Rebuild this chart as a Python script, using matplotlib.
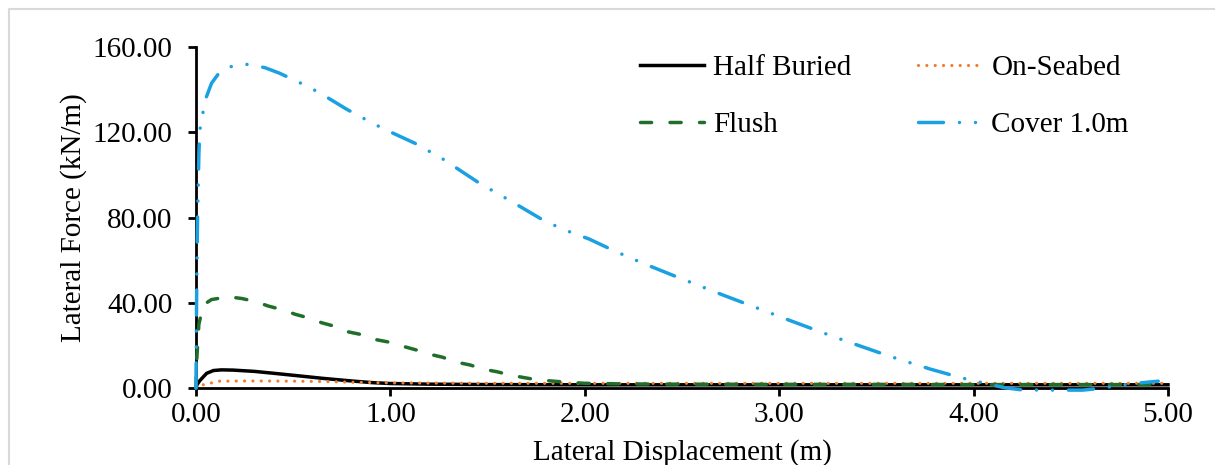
import matplotlib
matplotlib.use("Agg")
import matplotlib.pyplot as plt
from matplotlib.lines import Line2D
from matplotlib.ticker import FormatStrFormatter

# === Dati ===
half_x = [0, 0.005, 0.02, 0.055, 0.09, 0.13, 0.19, 0.3, 0.4, 0.55, 0.655, 0.8, 0.91,
          1.0, 1.2, 1.5, 2.0, 3.0, 4.0, 5.0]
half_y = [0, 1.5, 3.5, 6.9, 8.2, 8.5, 8.4, 7.8, 6.9, 5.5, 4.5, 3.3, 2.5,
          2.1, 1.8, 1.6, 1.5, 1.5, 1.5, 1.5]

seabed_x = [0, 0.01, 0.046, 0.12, 0.3, 0.5, 0.7, 0.8, 1.0, 1.5, 2.0, 3.0, 4.0, 5.0]
seabed_y = [0, 1.0, 1.7, 3.2, 3.3, 3.2, 3.0, 2.7, 2.4, 2.2, 2.2, 2.2, 2.2, 2.2]

flush_x = [0, 0.005, 0.015, 0.038, 0.08, 0.166, 0.235, 0.31, 0.37, 0.45, 0.51, 0.586,
           0.647, 0.72, 0.78, 0.86, 0.92, 1.0, 1.06, 1.135, 1.195, 1.27, 1.33, 1.41,
           1.48, 1.55, 1.615, 1.68, 1.75, 1.84, 1.91, 2.0, 2.2, 2.5, 3.0, 3.5, 4.0,
           4.5, 5.0]
flush_y = [0, 15, 30, 39, 41.5, 42.8, 42, 40.5, 38.5, 36.6, 34.6, 32.7,
           30.6, 28.8, 26.4, 24.9, 22.8, 21.4, 19.7, 17.8, 16, 14.4, 12.3, 10.8,
           8.8, 7.6, 6.1, 5.0, 3.9, 3.2, 2.7, 2.2, 1.9, 1.8, 1.7, 1.7, 1.6,
           1.6, 1.6]

cover_x = [0, 0.003, 0.008, 0.015, 0.02, 0.034, 0.051, 0.08, 0.12, 0.19, 0.27, 0.355,
           0.43, 0.57, 0.64, 0.775, 0.909, 0.98, 1.127, 1.264, 1.40, 1.46, 1.595,
           1.67, 1.80, 1.94, 2.02, 2.16, 2.30, 2.45, 2.7, 3.04, 3.27, 3.41, 3.565,
           3.64, 3.78, 3.94, 4.02, 4.16, 4.25, 4.41, 4.56, 4.64, 4.72, 4.80, 4.95]
cover_y = [0, 40, 80, 110, 121, 128.4, 136, 143, 148, 151.2, 151.9, 150.3,
           147.7, 141.7, 138.3, 130.8, 124.2, 121, 114.8, 107.8, 99.6, 96, 89,
           85, 78, 72.6, 70, 64, 58.5, 53, 44, 32.2, 24.4, 19.9, 15,
           12.8, 8.8, 4.7, 3.0, 0.1, -0.9, -1.0, -1.0, -0.3, 0.8, 1.9, 3.2]

x_ticks = [0, 1, 2, 3, 4, 5]
y_ticks = [0, 40, 80, 120, 160]

plt.rcParams['font.family'] = ['Liberation Serif', 'DejaVu Serif']

fig = plt.figure(figsize=(12.15, 4.65), dpi=100)
ax = fig.add_axes([0.1613, 0.1656, 0.8, 0.7333])

# bordo grigio esterno (solo sinistra e sopra, il resto e' tagliato)
bx, by = 8.5 / 1215, 1 - 9 / 465
fig.add_artist(Line2D([bx, bx, 1.0], [0.0, by, by], transform=fig.transFigure,
                      color='#D9D9D9', lw=1.5))

lw = 2.5
l1, = ax.plot(half_x, half_y, color='black', lw=lw, label='Half Buried',
              clip_on=False, zorder=3)
l2, = ax.plot(seabed_x, seabed_y, color='#ED7D31', lw=2.3, label='On-Seabed',
              linestyle=(0, (0.01, 2.6)), dash_capstyle='round', clip_on=False, zorder=4)
l3, = ax.plot(flush_x, flush_y, color='#1F6E2A', lw=lw, label='Flush',
              linestyle=(0, (3.2, 5.3)), dash_capstyle='round', clip_on=False, zorder=5)
l4, = ax.plot(cover_x, cover_y, color='#1BA1E2', lw=lw, label='Cover 1.0m',
              linestyle=(0, (7.2, 4.6, 0.01, 4.6, 0.01, 4.6)), dash_capstyle='round',
              clip_on=False, zorder=6)

ax.set_xlim(0, 5)
ax.set_ylim(0, 160)
ax.set_xticks(x_ticks)
ax.set_yticks(y_ticks)
ax.xaxis.set_major_formatter(FormatStrFormatter('%.2f'))
ax.yaxis.set_major_formatter(FormatStrFormatter('%.2f'))

for s in ['top', 'right']:
    ax.spines[s].set_visible(False)
for s in ['left', 'bottom']:
    ax.spines[s].set_linewidth(2.0)
    ax.spines[s].set_zorder(2)

ax.tick_params(axis='both', direction='out', length=6, width=2.0, labelsize=21)
ax.tick_params(axis='y', pad=11)
ax.tick_params(axis='x', pad=4)

ax.set_xlabel('Lateral Displacement (m)', fontsize=21, labelpad=8)
ax.set_ylabel('Lateral Force (kN/m)', fontsize=21, labelpad=4)

ax.legend(handles=[l1, l3, l2, l4], ncol=2, frameon=False, fontsize=21,
          loc='upper left', bbox_to_anchor=(0.445, 1.012), borderaxespad=0,
          handlelength=2.2, handletextpad=0.3, columnspacing=2.3,
          labelspacing=1.06)

fig.savefig('out.png', dpi=100)
